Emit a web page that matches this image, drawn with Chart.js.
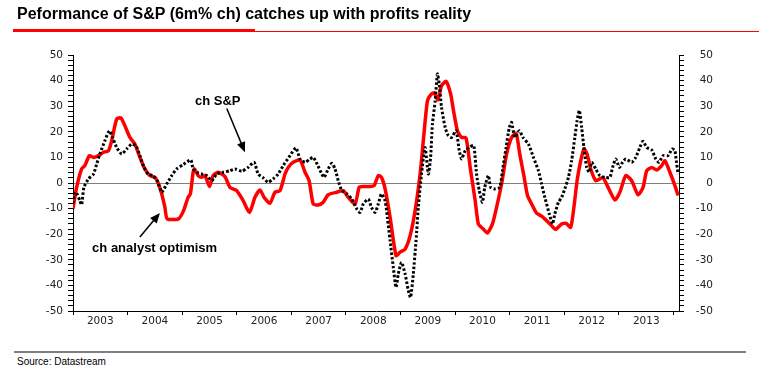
<!DOCTYPE html>
<html>
<head>
<meta charset="utf-8">
<script src="https://cdn.jsdelivr.net/npm/chart.js@4"></script>
<style>
    html, body { margin: 0; padding: 0; background: #fff; }
    body { width: 759px; height: 374px; position: relative; overflow: hidden; font-family: "Liberation Sans", Arial, sans-serif; }
    #title { position: absolute; left: 17px; top: 5px; font-size: 16px; font-weight: bold; color: #000; white-space: nowrap; }
    #ruleThick { position: absolute; left: 13px; top: 29px; width: 242px; height: 3px; background: #ff0000; }
    #ruleThin { position: absolute; left: 255px; top: 31px; width: 504px; height: 1px; background: #ff0000; }
    #chartWrap { position: absolute; left: 0; top: 0; width: 759px; height: 340px; }
    #footRule { position: absolute; left: 14px; top: 351px; width: 732px; height: 2px; background: #808080; }
    #source { position: absolute; left: 17px; top: 356px; font-size: 10px; color: #000; }
</style>
</head>
<body>
<div id="chartWrap"><canvas id="chart"></canvas></div>
<div id="title">Peformance of S&amp;P (6m% ch) catches up with profits reality</div>
<div id="ruleThick"></div>
<div id="ruleThin"></div>
<div id="footRule"></div>
<div id="source">Source: Datastream</div>
<script>
// x values are months since Jan 2003
const yearLabels = ['2003', '2004', '2005', '2006', '2007', '2008', '2009', '2010', '2011', '2012', '2013'];

const optimismMonths = [
    0, 0.8, 1.9, 2.6, 3.6, 4.5, 5.6, 6.7, 7.8, 8.5, 9.6, 10.5, 11.4, 12.5, 13.6, 14.7, 15.8, 16.9, 18, 18.8,
    19.5, 20.2, 20.7, 23.2, 24.3, 25.3, 25.8, 26.4, 26.7, 27.5, 28.3, 29, 30, 30.8, 31.9, 33.4, 34.5, 36, 37.4, 38.8,
    40, 41.1, 42, 43.3, 44.4, 45.5, 46.6, 47.3, 48.4, 49.9, 51, 51.9, 52.8, 53.9, 55, 56.1, 58, 59.4, 60.5, 62,
    62.9, 63.8, 65.3, 66.2, 67.1, 67.8, 68.6, 69.7, 71, 71.9, 73, 74.1, 75.2, 76.3, 77, 77.9, 78.8, 79.4, 80.2, 81,
    82, 83, 83.7, 84.5, 85.4, 86.4, 87.3, 88.4, 89.1, 90.2, 91.1, 92.2, 93.1, 94.2, 95.3, 96.4, 97.4, 98.2, 99.1, 99.9,
    100.8, 101.9, 103.2, 104.5, 105.7, 106.2, 107.4, 108.4, 109.4, 110.1, 110.8, 111.6, 112.3, 113, 113.8, 114.9, 115.8, 116.5, 117.6, 119.1,
    120.2, 121.5, 122.8, 124.2, 125.3, 126.1, 127.2, 128.3, 129.4, 130.1, 131.2, 132.3, 133
];
const optimismValues = [
    -10, -1.7, 5.5, 6.8, 10.7, 10, 10.7, 12, 12.6, 16.5, 25, 25.4, 22.4, 17.8, 15.2, 10, 5.5, 2.9, 2.2, -0.4,
    -4.3, -9.5, -14, -14, -10.8, -5.6, -4.3, 4.2, 5.5, 2.9, 2.2, 2.9, -1.4, 2.9, 4.2, 2.5, -1.7, -3, -6.9, -11.5,
    -5.6, -2.7, -5.6, -7.9, -3.6, -3, 3.5, 6.1, 8.1, 9, 4.2, 0.9, -8.2, -8.6, -7.5, -4.6, -3.6, -3, -5.6, -8.2,
    -1.7, -1.4, -1.4, -1, 2.9, 2.2, -2.3, -13.4, -28.4, -27, -25.8, -20.6, -10.8, 3.5, 16.5, 32, 34.8, 35.2, 32.5, 38,
    39.7, 34.8, 27.6, 20.4, 17.8, 17.6, 6.1, -6.9, -16, -18, -19.5, -16, -9.5, -0.4, 11.3, 17.8, 19.4, 11.3, 2.9, -4.9,
    -8.2, -11.8, -13.2, -15.4, -17.6, -18, -16, -15.8, -17.3, -9.5, 0.9, 8.7, 13.3, 11.3, 5.5, 0.9, 1.6, 2.2, -1.7, -6.6,
    -3.6, 2.9, 0.9, -4.6, -1.7, 4.8, 6.1, 5.1, 6.8, 8.7, 4.2, -1, -4.9
];

const spMonths = [
    0, 0.4, 0.9, 1.5, 1.9, 2.4, 3.4, 4.5, 5.2, 5.9, 7, 8, 8.7, 9.6, 10.7, 11.8, 12.9, 13.8, 14.7, 15.6,
    16.5, 17.5, 18.5, 19.5, 20.6, 21.7, 22.8, 24.2, 25.9, 26.4, 27.2, 28.3, 29.4, 30.5, 31.6, 33, 34.5, 35.6, 37.1, 38.5,
    39.8, 40.7, 41.8, 42.9, 44, 45.1, 46.2, 47.7, 49, 49.9, 51, 52.1, 52.8, 53.7, 54.7, 55.2, 56.1, 56.9, 57.6, 58.3,
    59.1, 60.2, 61.3, 62.4, 63.1, 63.8, 64.9, 65.6, 66.4, 67.1, 67.8, 68.6, 69.1, 69.7, 70.4, 71, 71.5, 72.2, 73, 73.7,
    74.2, 74.8, 75.4, 75.9, 76.6, 77.4, 78.1, 78.6, 79, 79.6, 80.1, 80.5, 81, 81.8, 82.5, 83.2, 84.2, 84.9, 85.4, 86.2,
    87.3, 88.1, 88.7, 89.3, 90, 90.5, 91.3, 91.8, 92.7, 93.8, 94.4, 95.2, 95.9, 96.4, 97.1, 98.1, 98.9, 100.1, 101.2, 102.3,
    103, 103.7, 104.7, 105.4, 105.9, 106.7, 107.4, 108.1, 108.9, 109.6, 110.3, 110.8, 111.3, 111.8, 112.3, 112.9, 113.5, 114, 114.9, 115.8,
    116.9, 118, 118.6, 119.3, 120.1, 120.8, 121.5, 122.8, 123.7, 124.6, 125.3, 126.1, 127.2, 128.1, 128.8, 129.7, 130.8, 131.7, 132.3, 132.6,
    133
];
const spValues = [
    -8, -3.6, -4.3, -6.9, -8.5, -1.7, 1.6, 3.5, 7.4, 11.3, 16.5, 20.4, 17.8, 13.9, 11.3, 13.3, 15.2, 14.6, 10.7, 6.1,
    3.5, 2.9, 0.9, -3.6, -0.4, 2.9, 5.5, 7.2, 9, 5.5, 4.2, 3.5, 2.9, 0.9, 3.5, 4.2, 4.8, 5.5, 4.6, 6.1,
    8.1, 3.5, 2, 0.3, 1.6, 3.5, 6.8, 10.7, 13.7, 9.4, 8.1, 9.4, 10, 7.2, 3.5, 2.2, 5.5, 7.7, 5.5, 0.9,
    -3, -4.3, -6.3, -10.2, -11.5, -8.2, -6.3, -9.5, -11.5, -8.2, -4.3, -6.9, -13.4, -22.5, -32.9, -40.8, -35.5, -31, -35.5, -42,
    -44.7, -35.5, -22.5, -9.5, 3.5, 13.9, 3.5, 10, 23, 32, 42.6, 38.7, 29.6, 21.7, 18.5, 17.8, 20.4, 12.6, 9.4, 12.6,
    14.2, 14.6, 3.5, -3, -7.5, -1.7, 2.9, -1.7, -2.3, -1.7, 4.8, 13.9, 21.7, 23.7, 17.8, 20.4, 17.8, 15.2, 10, 4.8,
    -0.4, -5.6, -12.1, -16, -12.1, -7.5, -5.6, -2.3, 2.2, 8.7, 17.8, 24.3, 28.3, 21.7, 13.9, 6.1, 4.2, 8.1, 5.5, 2.9,
    2.2, 2.2, 6.1, 9.4, 6.1, 8.1, 9.4, 8.1, 10, 13.9, 16.3, 13.9, 12.9, 9.4, 8.1, 10.7, 10.7, 13.3, 12.6, 8.7,
    3.5
];

function toPoints(xs, ys) {
    return xs.map((x, i) => ({ x, y: ys[i] }));
}

function drawArrow(ctx, x1, y1, x2, y2) {
    const angle = Math.atan2(y2 - y1, x2 - x1);
    const head = 11;
    ctx.beginPath();
    ctx.moveTo(x1, y1);
    ctx.lineTo(x2 - Math.cos(angle) * head * 0.8, y2 - Math.sin(angle) * head * 0.8);
    ctx.stroke();
    ctx.beginPath();
    ctx.moveTo(x2, y2);
    ctx.lineTo(x2 - head * Math.cos(angle - 0.4), y2 - head * Math.sin(angle - 0.4));
    ctx.lineTo(x2 - head * Math.cos(angle + 0.4), y2 - head * Math.sin(angle + 0.4));
    ctx.closePath();
    ctx.fill();
}

// text labels and arrows, placed in data coordinates
const annotationPlugin = {
    id: 'annotations',
    afterDatasetsDraw(chart) {
        const { ctx, scales } = chart;
        const px = (m) => scales.x.getPixelForValue(m);
        const py = (v) => scales.y.getPixelForValue(v);
        ctx.save();
        ctx.fillStyle = '#000';
        ctx.strokeStyle = '#000';
        ctx.lineWidth = 1.5;
        ctx.font = 'bold 13px "Liberation Sans", Arial, sans-serif';
        ctx.textBaseline = 'middle';
        ctx.textAlign = 'left';
        ctx.fillText('ch S&P', px(26.8), py(31.9));
        ctx.fillText('ch analyst optimism', px(4.2), py(-25.5));
        drawArrow(ctx, px(33.8), py(29.1), px(37.8), py(12));
        drawArrow(ctx, px(14.7), py(-21.1), px(19.1), py(-11.7));
        ctx.restore();
    }
};

const tickFont = { family: '"DejaVu Sans", sans-serif', size: 10.5 };

function yAxis(position, crossAlign, width, grid) {
    return {
        type: 'linear',
        position,
        min: -50,
        max: 50,
        afterFit: (scale) => { scale.width = width; },
        ticks: {
            stepSize: 2,
            autoSkip: false,
            color: '#222',
            font: tickFont,
            padding: 5,
            crossAlign,
            callback: (v) => (v % 10 === 0 ? String(v) : '')
        },
        border: { color: '#000', width: 1 },
        grid
    };
}

new Chart(document.getElementById('chart'), {
    type: 'line',
    data: {
        datasets: [
            {
                label: 'ch S&P',
                data: toPoints(spMonths, spValues),
                borderColor: '#000',
                borderWidth: 3,
                borderDash: [2.5, 2],
                pointRadius: 0,
                tension: 0.2,
                order: 0
            },
            {
                label: 'ch analyst optimism',
                data: toPoints(optimismMonths, optimismValues),
                borderColor: '#ff0000',
                borderWidth: 3.5,
                pointRadius: 0,
                tension: 0.2,
                order: 1
            }
        ]
    },
    options: {
        responsive: true,
        maintainAspectRatio: false,
        animation: false,
        devicePixelRatio: 1,
        layout: { padding: { top: 55, right: 46, bottom: 0, left: 0 } },
        plugins: {
            legend: { display: false },
            tooltip: { enabled: false }
        },
        scales: {
            x: {
                type: 'linear',
                min: 0,
                max: 133.2,
                afterBuildTicks: (scale) => {
                    const ticks = [];
                    for (let m = 0; m <= 132; m += 6) {
                        ticks.push({ value: m });
                    }
                    scale.ticks = ticks;
                },
                afterFit: (scale) => { scale.height = 29; },
                ticks: {
                    autoSkip: false,
                    maxRotation: 0,
                    padding: 0,
                    color: '#222',
                    font: tickFont,
                    callback: (v) => (v % 12 === 6 ? yearLabels[(v - 6) / 12] : '')
                },
                border: { color: '#000', width: 1 },
                grid: {
                    drawOnChartArea: false,
                    tickLength: 4,
                    tickColor: (ctx) => (ctx.tick && ctx.tick.value % 12 === 0 ? '#000' : 'rgba(0,0,0,0)')
                }
            },
            y: yAxis('left', 'near', 73, {
                drawOnChartArea: true,
                tickLength: 5,
                tickColor: '#000',
                color: (ctx) => (ctx.tick && ctx.tick.value === 0 ? '#808080' : 'rgba(0,0,0,0)')
            }),
            y2: yAxis('right', 'far', 34, {
                drawOnChartArea: false,
                tickLength: 5,
                tickColor: '#000'
            })
        }
    },
    plugins: [annotationPlugin]
});
</script>
</body>
</html>
